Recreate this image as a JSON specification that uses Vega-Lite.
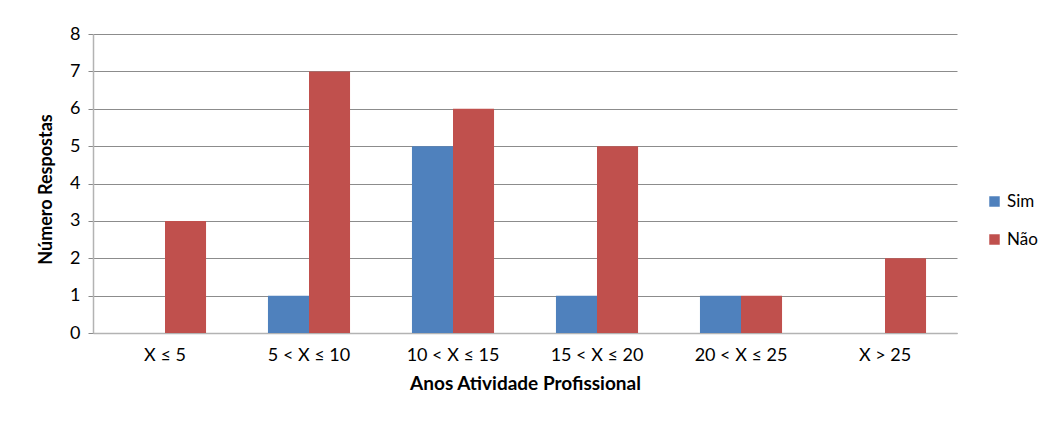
{
  "$schema": "https://vega.github.io/schema/vega-lite/v6.json",
  "width": 864,
  "height": 299,
  "autosize": {"type": "none"},
  "padding": {"left": 93, "top": 34, "right": 94, "bottom": 92},
  "background": "white",
  "config": {
    "font": "Lato",
    "view": {"stroke": null},
    "axis": {"labelFont": "Lato", "titleFont": "Lato", "labelColor": "#000000", "titleColor": "#000000"}
  },
  "data": {
    "values": [
      {"cat": "X ≤ 5", "grp": "Sim", "v": 0},
      {"cat": "X ≤ 5", "grp": "Não", "v": 3},
      {"cat": "5 < X ≤ 10", "grp": "Sim", "v": 1},
      {"cat": "5 < X ≤ 10", "grp": "Não", "v": 7},
      {"cat": "10 < X ≤ 15", "grp": "Sim", "v": 5},
      {"cat": "10 < X ≤ 15", "grp": "Não", "v": 6},
      {"cat": "15 < X ≤ 20", "grp": "Sim", "v": 1},
      {"cat": "15 < X ≤ 20", "grp": "Não", "v": 5},
      {"cat": "20 < X ≤ 25", "grp": "Sim", "v": 1},
      {"cat": "20 < X ≤ 25", "grp": "Não", "v": 1},
      {"cat": "X > 25", "grp": "Sim", "v": 0},
      {"cat": "X > 25", "grp": "Não", "v": 2}
    ]
  },
  "mark": {"type": "bar"},
  "encoding": {
    "x": {
      "field": "cat", "type": "nominal", "sort": null,
      "scale": {"paddingInner": 0.43, "paddingOuter": 0.215},
      "axis": {
        "title": "Anos Atividade Profissional", "titleFontSize": 19, "titleFontWeight": "bold",
        "titlePadding": 10, "labelAngle": 0, "labelFontSize": 18, "labelPadding": 13,
        "ticks": false, "domainColor": "#b3b3b3", "domainWidth": 1.5
      }
    },
    "xOffset": {"field": "grp", "type": "nominal", "sort": ["Sim", "Não"], "scale": {"paddingInner": 0, "paddingOuter": 0}},
    "y": {
      "field": "v", "type": "quantitative",
      "scale": {"domain": [0, 8], "nice": false},
      "axis": {
        "title": "Número Respostas", "titleFontSize": 18, "titleFontWeight": "bold", "titlePadding": 14,
        "titleY": 155,
        "values": [0, 1, 2, 3, 4, 5, 6, 7, 8], "labelFontSize": 18, "labelPadding": 8,
        "tickSize": 5, "tickColor": "#888888", "gridColor": "#8c8c8c", "domainColor": "#b3b3b3", "domainWidth": 1.5
      }
    },
    "color": {
      "field": "grp", "type": "nominal",
      "scale": {"domain": ["Sim", "Não"], "range": ["#4F81BD", "#C0504D"]},
      "legend": {
        "title": null, "orient": "none", "legendX": 893, "legendY": 159,
        "symbolType": "square", "symbolSize": 110, "labelFontSize": 17, "rowPadding": 20,
        "labelFont": "Lato", "labelColor": "#000000", "symbolStrokeWidth": 0
      }
    }
  }
}
